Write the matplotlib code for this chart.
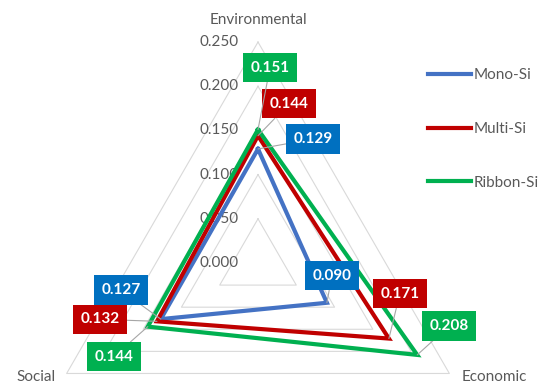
import numpy as np
import matplotlib.pyplot as plt

# Data
categories = ["Environmental", "Economic", "Social"]
series_names = ["Mono-Si", "Multi-Si", "Ribbon-Si"]
mono = [0.129, 0.090, 0.127]
multi = [0.144, 0.171, 0.132]
ribbon = [0.151, 0.208, 0.144]
ticks = [0.000, 0.050, 0.100, 0.150, 0.200, 0.250]

line_colors = ["#4472C4", "#C00000", "#00B050"]
box_colors = ["#0070C0", "#C00000", "#00B050"]
text_gray = "#595959"
grid_gray = "#D9D9D9"

# label box offsets (pixels) relative to each point
label_offsets = [
    [(55, 10), (5, 27), (-40, 29)],
    [(31, 32), (11, 45), (-57, 2)],
    [(12, 62), (32, 29), (-34, -30)],
]

plt.rcParams['font.family'] = ['Lato', 'DejaVu Sans']

angles = np.deg2rad([90, -30, 210])


def to_xy(vals):
    vals = np.asarray(vals)
    return vals * np.cos(angles), vals * np.sin(angles)


fig = plt.figure(figsize=(5.48, 3.85), dpi=100)
ax = fig.add_axes([0, 0, 1, 1])
ax.set_xlim(-0.2919, 0.3281)
ax.set_ylim(-0.1380, 0.2975)
ax.set_aspect('equal')
ax.axis('off')

# triangular grid
for t in ticks[1:]:
    gx, gy = to_xy([t, t, t])
    ax.plot(np.append(gx, gx[0]), np.append(gy, gy[0]), color=grid_gray, lw=0.8, zorder=1)

# tick labels
for t in ticks:
    ax.annotate(f"{t:.3f}", xy=(0, t), xytext=(-19, 0), textcoords='offset pixels',
                ha='right', va='center', fontsize=11, color=text_gray)

# category labels
cat_offsets = [(0, 22), (45, -4), (-31, -4)]
ox, oy = to_xy([ticks[-1]] * 3)
for i, cat in enumerate(categories):
    ax.annotate(cat, xy=(ox[i], oy[i]), xytext=cat_offsets[i], textcoords='offset pixels',
                ha='center', va='center', fontsize=11, color=text_gray)

# series
lines = []
for k, vals in enumerate([mono, multi, ribbon]):
    x, y = to_xy(vals)
    ln, = ax.plot(np.append(x, x[0]), np.append(y, y[0]), color=line_colors[k], lw=3,
                  solid_joinstyle='miter', zorder=3 + k, label=series_names[k])
    lines.append(ln)
    for i in range(3):
        ax.annotate(f"{vals[i]:.3f}", xy=(x[i], y[i]), xytext=label_offsets[k][i],
                    textcoords='offset pixels', ha='center', va='center',
                    fontsize=11, fontweight='bold', color='white', zorder=10,
                    bbox=dict(boxstyle='square,pad=0.5', fc=box_colors[k], ec='none'),
                    arrowprops=dict(arrowstyle='-', color='#A6A6A6', lw=0.8,
                                    shrinkA=0, shrinkB=0))

leg = fig.legend(handles=lines, loc='center left', bbox_to_anchor=(428 / 548, 1 - 129 / 385),
                 frameon=False, handlelength=2.8, handletextpad=0.2, labelspacing=2.6,
                 borderpad=0, borderaxespad=0, fontsize=11)
for txt in leg.get_texts():
    txt.set_color(text_gray)

plt.savefig("out.png", dpi=100)
